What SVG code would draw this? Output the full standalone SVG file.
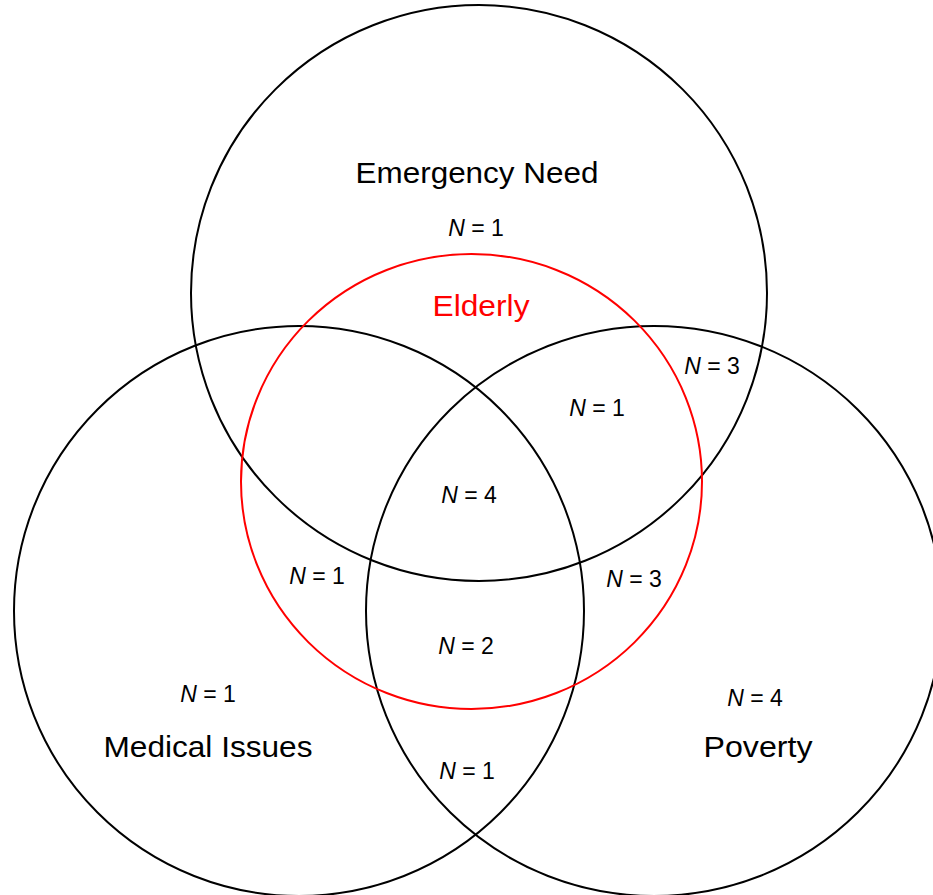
<svg xmlns="http://www.w3.org/2000/svg" width="933" height="895" viewBox="0 0 933 895">
  <style>
    .set { fill: none; stroke: #000; stroke-width: 2; }
    .elderly { fill: none; stroke: #ff0000; stroke-width: 2; }
    .title { font-family: "Liberation Sans", Arial, sans-serif; font-size: 30px; fill: #000; text-anchor: middle; }
    .count { font-family: "Liberation Sans", Arial, sans-serif; font-size: 23px; fill: #000; text-anchor: middle; }
    .count tspan.n { font-style: italic; }
  </style>
  <rect width="933" height="895" fill="#fff"/>

  <g id="emergency-need">
    <circle class="set" cx="479" cy="293" r="288"/>
    <text class="title" x="477" y="183" textLength="243" lengthAdjust="spacingAndGlyphs">Emergency Need</text>
  </g>
  <g id="medical-issues">
    <circle class="set" cx="299" cy="611" r="285"/>
    <text class="title" x="208" y="757" textLength="209" lengthAdjust="spacingAndGlyphs">Medical Issues</text>
  </g>
  <g id="poverty">
    <ellipse class="set" cx="654" cy="611" rx="288" ry="285"/>
    <text class="title" x="758" y="757" textLength="109" lengthAdjust="spacingAndGlyphs">Poverty</text>
  </g>
  <g id="elderly">
    <ellipse class="elderly" cx="471.5" cy="481.5" rx="230.5" ry="227.5"/>
    <text class="title" x="481" y="316" style="fill:#ff0000" textLength="97" lengthAdjust="spacingAndGlyphs">Elderly</text>
  </g>

  <g id="counts">
    <text class="count" x="476" y="236"><tspan class="n">N</tspan> = 1</text>
    <text class="count" x="712" y="374"><tspan class="n">N</tspan> = 3</text>
    <text class="count" x="597" y="416"><tspan class="n">N</tspan> = 1</text>
    <text class="count" x="469" y="503"><tspan class="n">N</tspan> = 4</text>
    <text class="count" x="317" y="584"><tspan class="n">N</tspan> = 1</text>
    <text class="count" x="634" y="587"><tspan class="n">N</tspan> = 3</text>
    <text class="count" x="466" y="654"><tspan class="n">N</tspan> = 2</text>
    <text class="count" x="208" y="702"><tspan class="n">N</tspan> = 1</text>
    <text class="count" x="755" y="706"><tspan class="n">N</tspan> = 4</text>
    <text class="count" x="467" y="779"><tspan class="n">N</tspan> = 1</text>
  </g>
</svg>
